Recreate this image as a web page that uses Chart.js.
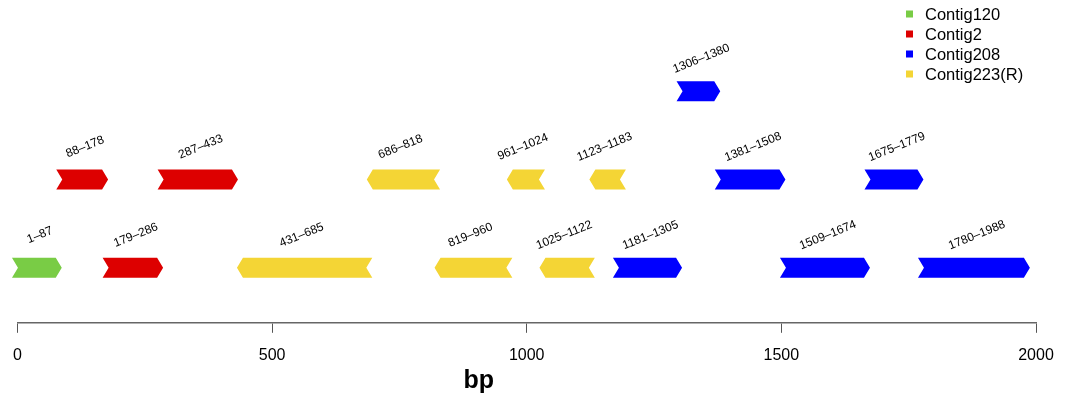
<!DOCTYPE html>
<html>
<head>
<meta charset="utf-8">
<title>Contig map</title>
<script src="https://cdn.jsdelivr.net/npm/chart.js@4.4.0/dist/chart.umd.min.js"></script>
<style>
  html, body { margin: 0; padding: 0; background: #fff; }
  #wrap { width: 1068px; height: 402px; }
</style>
</head>
<body>
<div id="wrap"><canvas id="map" width="1068" height="402"></canvas></div>
<script>
// Contigs and their segments (bp start, bp end, track lane)
const contigNames = ['Contig120', 'Contig2', 'Contig208', 'Contig223(R)'];
const reversed = [false, false, false, true];

const contig120Start = [1];
const contig120End   = [87];
const contig120Lane  = [0];

const contig2Start = [88, 179, 287];
const contig2End   = [178, 286, 433];
const contig2Lane  = [1, 0, 1];

const contig208Start = [1181, 1306, 1381, 1509, 1675, 1780];
const contig208End   = [1305, 1380, 1508, 1674, 1779, 1988];
const contig208Lane  = [0, 2, 1, 0, 1, 0];

const contig223Start = [431, 686, 819, 961, 1025, 1123];
const contig223End   = [685, 818, 960, 1024, 1122, 1183];
const contig223Lane  = [0, 1, 0, 1, 0, 1];

const axisTicks = [0, 500, 1000, 1500, 2000];

// Styling
const contigColors = ['#79CC45', '#DD0000', '#0000FF', '#F4D535'];
const FONT = '"Liberation Sans", Helvetica, Arial, sans-serif';

function segments(starts, ends, lanes) {
  return starts.map((s, i) => ({ x: [s, ends[i]], y: lanes[i] }));
}
const segmentSets = [
  segments(contig120Start, contig120End, contig120Lane),
  segments(contig2Start, contig2End, contig2Lane),
  segments(contig208Start, contig208End, contig208Lane),
  segments(contig223Start, contig223End, contig223Lane)
];

// Draws each floating bar as a gene-style arrow, plus its range label
const arrowPlugin = {
  id: 'arrows',
  beforeDatasetDraw(chart, args) {
    const ctx = chart.ctx;
    const ds = chart.data.datasets[args.index];
    const meta = args.meta;
    const d = 6;
    ctx.save();
    meta.data.forEach((el, i) => {
      const l = Math.min(el.x, el.base), r = Math.max(el.x, el.base);
      const h = el.height / 2, cy = el.y;
      ctx.beginPath();
      if (!ds.reversed) {
        ctx.moveTo(l - d, cy - h);
        ctx.lineTo(r - d, cy - h);
        ctx.lineTo(r, cy);
        ctx.lineTo(r - d, cy + h);
        ctx.lineTo(l - d, cy + h);
        ctx.lineTo(l, cy);
      } else {
        ctx.moveTo(l, cy);
        ctx.lineTo(l + d, cy - h);
        ctx.lineTo(r + d, cy - h);
        ctx.lineTo(r, cy);
        ctx.lineTo(r + d, cy + h);
        ctx.lineTo(l + d, cy + h);
      }
      ctx.closePath();
      ctx.fillStyle = ds.backgroundColor;
      ctx.fill();

      // range label
      const v = ds.data[i].x;
      ctx.save();
      ctx.translate((l + r) / 2, cy - 32.5);
      ctx.rotate(-22 * Math.PI / 180);
      ctx.font = '12px ' + FONT;
      ctx.fillStyle = '#000';
      ctx.textAlign = 'center';
      ctx.textBaseline = 'middle';
      ctx.fillText(v[0] + '\u2013' + v[1], 0, 0);
      ctx.restore();
    });
    ctx.restore();
    return false;
  },
  afterDraw(chart) {
    const ctx = chart.ctx;
    const area = chart.chartArea;
    ctx.save();
    // axis title
    ctx.font = 'bold 25px ' + FONT;
    ctx.fillStyle = '#000';
    ctx.textAlign = 'center';
    ctx.textBaseline = 'middle';
    ctx.fillText('bp', area.left + (area.right - area.left) * 0.453, 381);

    // legend, top right
    ctx.font = '16.5px ' + FONT;
    ctx.textAlign = 'left';
    chart.data.datasets.forEach((ds, i) => {
      const y = 14 + i * 20;
      ctx.fillStyle = ds.backgroundColor;
      ctx.fillRect(906, y - 3.5, 7, 7);
      ctx.fillStyle = '#000';
      ctx.fillText(ds.label, 925, y + 1);
    });
    ctx.restore();
  }
};

new Chart(document.getElementById('map'), {
  type: 'bar',
  data: {
    datasets: contigNames.map((name, i) => ({
      label: name,
      data: segmentSets[i],
      backgroundColor: contigColors[i],
      reversed: reversed[i],
      grouped: false,
      barThickness: 20
    }))
  },
  options: {
    indexAxis: 'y',
    responsive: false,
    animation: false,
    layout: { padding: { left: 14, right: 32, top: 3, bottom: 24 } },
    plugins: {
      legend: { display: false },
      tooltip: { enabled: false }
    },
    scales: {
      x: {
        type: 'linear',
        min: 0,
        max: 2000,
        afterBuildTicks(scale) { scale.ticks = axisTicks.map(v => ({ value: v })); },
        grid: {
          drawOnChartArea: false,
          drawTicks: true,
          tickLength: 10,
          color: '#555',
          lineWidth: 1
        },
        border: { display: true, color: '#666', width: 1.5 },
        ticks: {
          padding: 13,
          maxRotation: 0,
          color: '#000',
          font: { family: FONT, size: 16 },
          callback: v => String(v)
        }
      },
      y: {
        type: 'linear',
        min: -0.625,
        max: 3,
        offset: false,
        display: false
      }
    }
  },
  plugins: [arrowPlugin]
});
</script>
</body>
</html>
